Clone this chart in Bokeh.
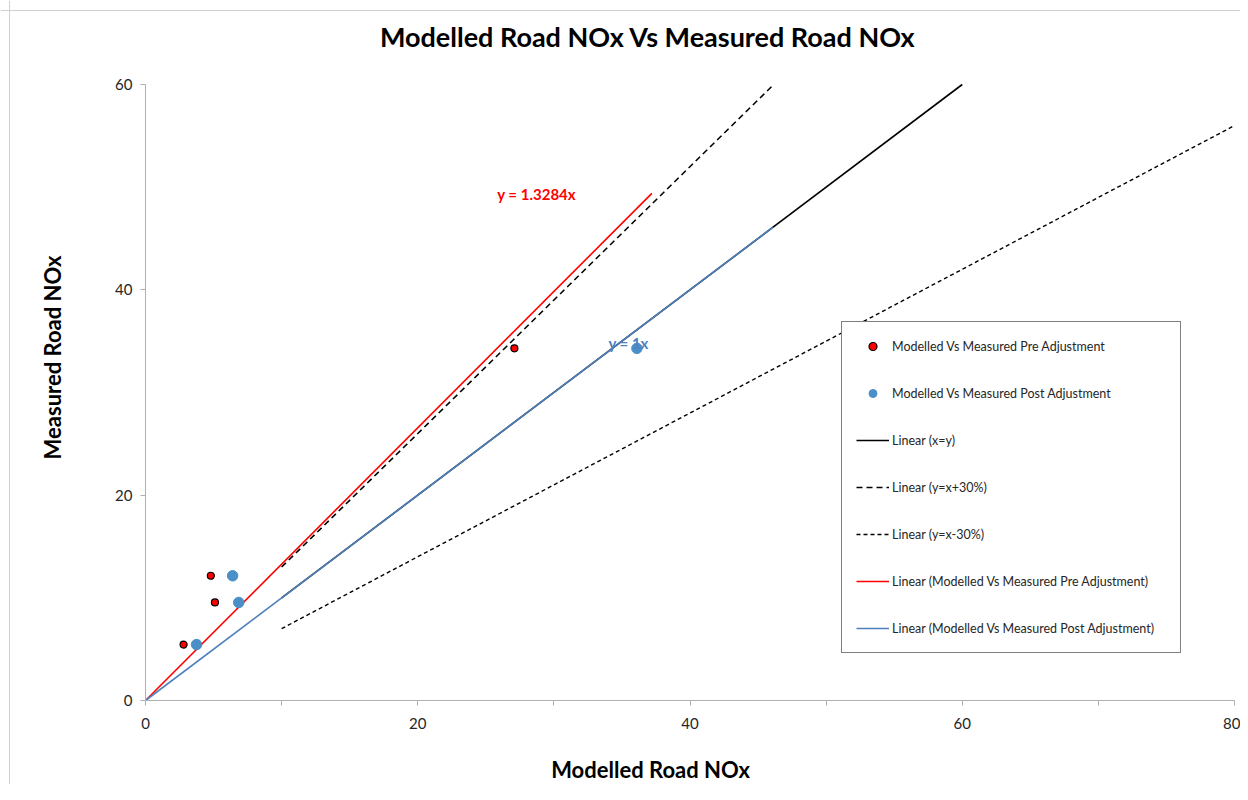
from bokeh.plotting import figure
from bokeh.models import Range1d, Label, Legend, LegendItem, FixedTicker, Span
from bokeh.embed import file_html
from bokeh.resources import INLINE
import math

# ---- data ----
pre_x = [2.8, 4.8, 5.1, 27.1]
pre_y = [5.45, 12.15, 9.55, 34.3]
post_x = [3.75, 6.4, 6.85, 36.1]
post_y = [5.45, 12.15, 9.55, 34.3]

xy_x = [10, 60]
xy_y = [10, 60]
plus30_x = [10, 46]
plus30_y = [13, 59.8]
minus30_x = [10, 80]
minus30_y = [7, 56]
pre_trend_x = [0, 37.2]
pre_trend_y = [0, 49.4]
post_trend_x = [0, 46.1]
post_trend_y = [0, 46.1]

x_ticks = [0, 10, 20, 30, 40, 50, 60, 70, 80]
y_ticks = [0, 20, 40, 60]

FONT = "Lato"
RED = "#ff0000"
BLUE_LINE = "#4f81bd"
BLUE_PT = "#4a8fc8"

W, H = 1240, 784
# pixel layout of the plot area (axes at data 0)
PX0, PX1, PY0, PY1 = 145, 1234, 700, 84
sx = (PX1 - PX0) / 80.0
sy = (PY0 - PY1) / 60.0
x_range = Range1d(-PX0 / sx, 80 + (W - PX1) / sx)
y_range = Range1d(-(H - PY0) / sy, 60 + PY1 / sy)

p = figure(width=W, height=H, output_backend="svg", toolbar_location=None,
           x_range=x_range, y_range=y_range,
           min_border_left=0, min_border_right=0, min_border_top=0, min_border_bottom=0)
p.outline_line_color = None
p.xgrid.visible = False
p.ygrid.visible = False

for ax in (p.xaxis[0], p.yaxis[0]):
    ax.fixed_location = 0
    ax.axis_line_color = "#b0b0b0"
    ax.major_tick_line_color = "#b0b0b0"
    ax.minor_tick_line_color = None
    ax.major_tick_out = 5
    ax.major_tick_in = 0
    ax.major_label_text_font = FONT
    ax.major_label_text_font_size = "15px"
    ax.major_label_text_color = "#262626"

p.xaxis.bounds = (0, 80)
p.yaxis.bounds = (0, 60)
p.xaxis.ticker = FixedTicker(ticks=x_ticks)
p.xaxis.major_label_overrides = {10: "", 30: "", 50: "", 70: ""}
p.yaxis.ticker = FixedTicker(ticks=y_ticks)
p.xaxis.major_label_standoff = 12
p.yaxis.major_label_standoff = 8

# chart-area border (left and top edges)
p.add_layout(Span(location=x_range.start + 9 / sx, dimension="height",
                  line_color="#d0d0d0", line_width=1))
p.add_layout(Span(location=y_range.end - 10 / sy, dimension="width",
                  line_color="#d0d0d0", line_width=1))

r_xy = p.line(xy_x, xy_y, line_color="black", line_width=1.6)
r_p30 = p.line(plus30_x, plus30_y, line_color="black", line_width=1.6, line_dash="6 4")
r_m30 = p.line(minus30_x, minus30_y, line_color="black", line_width=1.4, line_dash="4 3")
r_pre_t = p.line(pre_trend_x, pre_trend_y, line_color=RED, line_width=1.6)
r_post_t = p.line(post_trend_x, post_trend_y, line_color=BLUE_LINE, line_width=1.6)

r_post = p.scatter(post_x, post_y, size=10.5, fill_color=BLUE_PT, line_color=BLUE_PT)
r_pre = p.scatter(pre_x, pre_y, size=7, fill_color=RED, line_color="black", line_width=1.2)

legend = Legend(items=[
    LegendItem(label="Modelled Vs Measured Pre Adjustment", renderers=[r_pre]),
    LegendItem(label="Modelled Vs Measured Post Adjustment", renderers=[r_post]),
    LegendItem(label="Linear (x=y)", renderers=[r_xy]),
    LegendItem(label="Linear (y=x+30%)", renderers=[r_p30]),
    LegendItem(label="Linear (y=x-30%)", renderers=[r_m30]),
    LegendItem(label="Linear (Modelled Vs Measured Pre Adjustment)", renderers=[r_pre_t]),
    LegendItem(label="Linear (Modelled Vs Measured Post Adjustment)", renderers=[r_post_t]),
], location=(841, H - 653))
legend.border_line_color = "black"
legend.border_line_width = 1
legend.background_fill_alpha = 1
legend.padding = 14
legend.spacing = 27
legend.glyph_width = 33
legend.glyph_height = 20
legend.label_height = 20
legend.label_width = 274
legend.label_standoff = 3
legend.margin = 0
legend.label_text_font = FONT
legend.label_text_font_size = "12.5px"
legend.label_text_color = "#262626"
p.add_layout(legend, "center")

# title and axis titles
p.add_layout(Label(x=36.9, y=64.68, text="Modelled Road NOx Vs Measured Road NOx",
                   text_font=FONT, text_font_size="27px", text_font_style="bold",
                   text_align="center", text_baseline="middle", text_color="black"))
p.add_layout(Label(x=37.1, y=-6.72, text="Modelled Road NOx",
                   text_font=FONT, text_font_size="22px", text_font_style="bold",
                   text_align="center", text_baseline="middle", text_color="black"))
p.add_layout(Label(x=-6.83, y=33.41, text="Measured Road NOx", angle=math.pi / 2,
                   text_font=FONT, text_font_size="22px", text_font_style="bold",
                   text_align="center", text_baseline="middle", text_color="black"))

# trendline equations
p.add_layout(Label(x=28.73, y=49.37, text="y = 1.3284x", text_font=FONT,
                   text_font_size="15px", text_font_style="bold", text_color=RED,
                   text_align="center", text_baseline="middle"))
p.add_layout(Label(x=35.49, y=34.86, text="y = 1x", text_font=FONT,
                   text_font_size="15px", text_font_style="bold", text_color=BLUE_LINE,
                   text_align="center", text_baseline="middle"))

open("out.html", "w").write(file_html(p, INLINE))
